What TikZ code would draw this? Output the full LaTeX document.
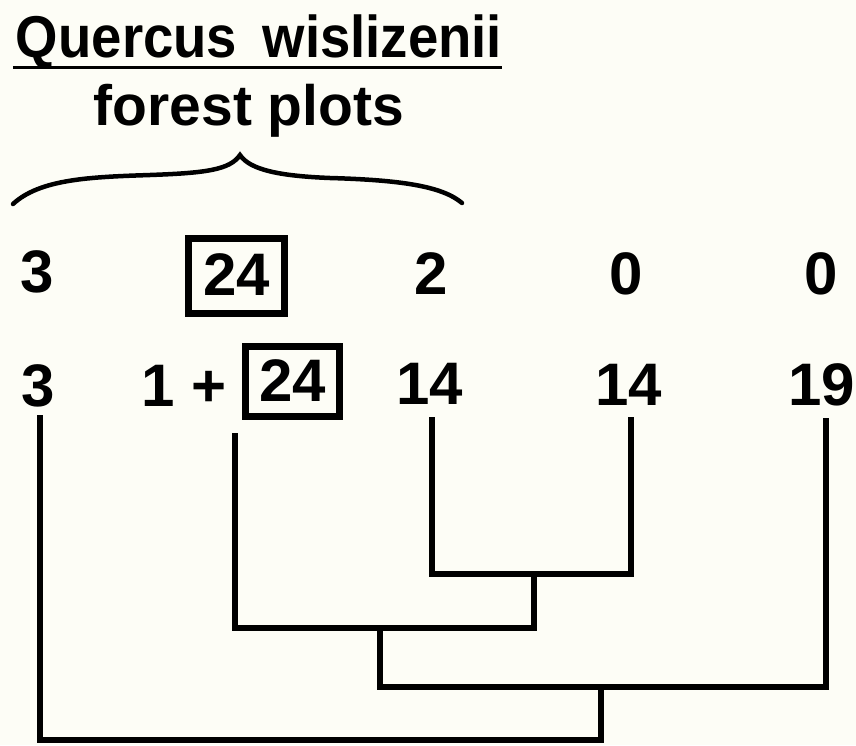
\documentclass[tikz,border=0pt]{standalone}
\usepackage{fontspec}
\setmainfont{Liberation Sans}
\definecolor{paper}{RGB}{253,253,246}
\begin{document}
\begin{tikzpicture}[x=1pt,y=-1pt,
  num/.style={inner sep=0pt,anchor=base,font=\fontsize{60}{60}\selectfont\bfseries},
  boxed/.style={draw,line width=7pt,inner sep=0pt,text height=43pt,text depth=4pt,
     font=\fontsize{60}{60}\selectfont\bfseries},
  tree/.style={line width=6.5pt}]
\fill[paper] (0,0) rectangle (856,745);
\useasboundingbox (0,0) rectangle (856,745);
% title
\node (title) [inner sep=0pt,anchor=base] at (259,57)
  {\fontsize{59}{59}\selectfont\bfseries\resizebox{486pt}{\height}{Quercus\hspace{0.19em} wislizenii}};
\draw[line width=3pt] (title.base west) ++(-3,10) coordinate (ul1) -- ++(489,0) coordinate (ul2);
\node (sub) [inner sep=0pt,anchor=base,font=\fontsize{57}{57}\selectfont\bfseries] at (249,125) {forest plots};
% brace
\draw[line width=4.5pt,line cap=round]
  (13,204) .. controls (40,179) and (90,177) .. (150,175)
  .. controls (205,173) and (230,170) .. (240,155)
  .. controls (250,170) and (280,176) .. (330,178)
  .. controls (400,180) and (442,186) .. (462,203);
% row 1
\node (a1) [num] at (37.5,292) {3};
\node (b1) [boxed,minimum width=96pt,minimum height=75pt] at (236.5,276) {24};
\node (c1) [num] at (431,294) {2};
\node (d1) [num] at (626.5,294) {0};
\node (e1) [num] at (821.5,294) {0};
% row 2
\node (a2) [num] at (38,406) {3};
\node (p2) [num,anchor=base west] at (141,406) {1 +};
\node (b2) [boxed,minimum width=94pt,minimum height=70pt] at (292.5,381.5) {24};
\node (c2) [num] at (430,404) {14};
\node (d2) [num] at (628.5,405) {14};
\node (e2) [num] at (821.5,405) {19};
% dendrogram
\coordinate (l1) at (40,415);
\coordinate (l2) at (235,433);
\coordinate (l3) at (432,417);
\coordinate (l4) at (631,417);
\coordinate (l5) at (826,418);
\coordinate (jA) at (534,574);
\coordinate (jB) at (380,628);
\coordinate (jC) at (601,687);
\coordinate (root) at (601,740);
\draw[tree] (l3) |- (jA) -| (l4);
\draw[tree] (jA) |- (jB) -| (l2);
\draw[tree] (jB) |- (jC) -| (l5);
\draw[tree] (jC) -- (root) -| (l1);
\end{tikzpicture}
\end{document}
